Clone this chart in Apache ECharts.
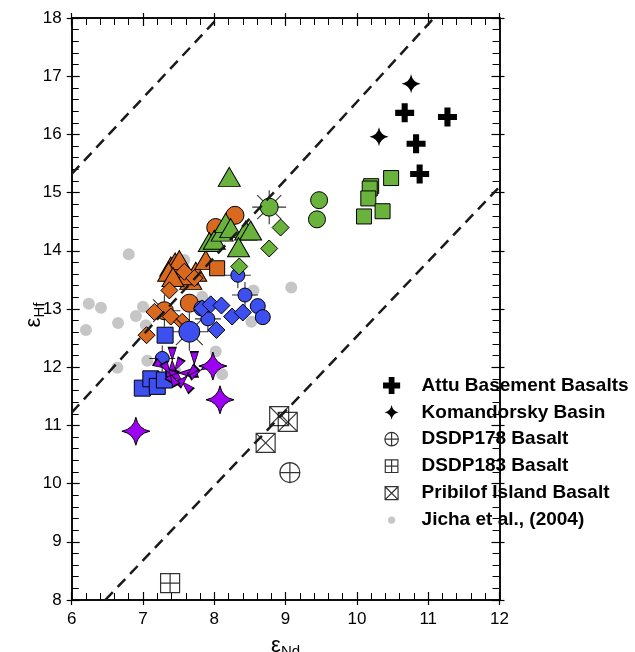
<!DOCTYPE html>
<html><head><meta charset="utf-8">
<script src="https://cdn.jsdelivr.net/npm/echarts@6/dist/echarts.min.js"></script>
<style>html,body{margin:0;padding:0;background:#fff}#c{width:635px;height:652px}</style>
</head><body><div id="c"></div>
<script>
// ---------------- data ----------------
const xTicks = [6, 7, 8, 9, 10, 11, 12];
const yTicks = [8, 9, 10, 11, 12, 13, 14, 15, 16, 17, 18];

const attu = [[10.67,16.37],[11.27,16.30],[10.83,15.84],[10.88,15.32]];
const komandorsky = [[10.76,16.87],[10.31,15.96]];
const dsdp178 = [[9.06,10.19]];
const dsdp183 = [[7.38,8.29]];
const pribilof = [[8.91,11.16],[9.03,11.06],[8.72,10.70]];
const jicha = [[6.24,13.09],[6.41,13.02],[6.20,12.64],[6.65,12.76],[6.80,13.94],[6.90,12.88],[7.00,13.04],
  [7.04,12.72],[7.06,12.11],[6.64,11.99],[8.02,12.27],[8.11,11.88],[7.83,13.21],[8.55,13.32],[9.08,13.37],
  [8.52,12.78],[7.32,13.56],[7.58,13.84],[7.45,11.95]];

const greenTri = [[8.21,15.27],[7.93,14.15],[8.00,14.19],[8.11,14.33],[8.16,14.48],[8.23,14.39],[8.44,14.35],[8.51,14.35],[8.34,14.06]];
const greenCirc = [[9.47,14.87],[9.44,14.54]];
const greenSun = [[8.77,14.75]];
const greenDia = [[8.93,14.40],[8.77,14.04],[8.35,13.73]];
const greenSq = [[10.48,15.25],[10.20,15.11],[10.18,15.07],[10.16,14.90],[10.36,14.68],[10.10,14.59]];

const orangeTri = [[7.39,13.73],[7.45,13.80],[7.51,13.84],[7.36,13.64],[7.55,13.56],[7.67,13.50],[7.74,13.64],[7.88,13.84],[7.61,13.58],[7.42,13.55]];
const orangeCirc = [[8.29,14.61],[8.02,14.40],[7.65,13.10]];
const orangeSun = [[7.30,12.97]];
const orangeSq = [[8.04,13.70]];
const orangeDia = [[7.58,13.64],[7.72,13.53],[7.37,13.32],[7.16,12.95],[7.39,12.87],[7.55,12.78],[7.05,12.55]];

const blueCross = [[8.33,13.58],[8.43,13.24],[7.91,12.83],[7.27,12.15]];
const blueCirc = [[8.61,13.05],[8.68,12.86],[7.82,13.01]];
const blueSun = [[7.65,12.61]];
const blueDia = [[7.83,13.01],[7.95,13.08],[8.10,13.06],[8.25,12.87],[8.40,12.94],[8.03,12.64]];
const blueSq = [[7.31,12.55],[6.99,11.64],[7.11,11.80],[7.20,11.67],[7.30,11.78]];

const purpleStar = [[7.98,12.02],[8.08,11.44],[6.90,10.90]];
const purpleHg = [[7.41,12.12],[7.72,12.05],[7.32,11.98],[7.45,11.95],[7.55,11.75],[7.50,11.90],[7.81,11.95],[7.62,11.85],[7.38,11.88]];
const purpleRot = [0, 0, 60, -30, 45, 90, 120, -45, 30];

const arrayLines = [[[6,15.32],[8.05,18]], [[6,11.22],[11.08,18]], [[6.47,8],[12,15.10]]];

// ---------------- styles ----------------
const FONT = 'Liberation Sans';
const GREEN = '#69b33d', ORANGE = '#d8691f', BLUE = '#3e4ff0', PURPLE = '#9d00f2', GREY = '#c6c6c6';
const P = {
  plus: 'path://M-3.2,-10H3.2V-3.2H10V3.2H3.2V10H-3.2V3.2H-10V-3.2H-3.2Z',
  star: 'path://M0,-10Q1.6,-1.6 10,0Q1.6,1.6 0,10Q-1.6,1.6 -10,0Q-1.6,-1.6 0,-10Z',
  cplus: 'path://M-10,0A10,10 0 1 1 10,0A10,10 0 1 1 -10,0ZM0,-10L0,10M-10,0L10,0',
  splus: 'path://M-10,-10H10V10H-10ZM0,-10L0,10M-10,0L10,0',
  sx: 'path://M-10,-10H10V10H-10ZM-10,-10L10,10M10,-10L-10,10',
  rays: 'path://M0,-10L0,10M-10,0L10,0M-7.07,-7.07L7.07,7.07M7.07,-7.07L-7.07,7.07',
  cross: 'path://M0,-10L0,10M-10,0L10,0',
  hg: 'path://M-4,-12L4,-12L0,0L4,12L-4,12L0,0Z'
};
const L = {
  plus: 'path://M-10,-10M10,10M-3.2,-9.5H3.2V-3.2H9.5V3.2H3.2V9.5H-3.2V3.2H-9.5V-3.2H-3.2Z',
  star: 'path://M-10,-10M10,10M0,-8.2Q1.3,-1.3 7.8,0Q1.3,1.3 0,8.2Q-1.3,1.3 -7.8,0Q-1.3,-1.3 0,-8.2Z',
  cplus: 'path://M-10,-10M10,10M-7.5,0A7.5,7.5 0 1 1 7.5,0A7.5,7.5 0 1 1 -7.5,0ZM0,-7.5L0,7.5M-7.5,0L7.5,0',
  splus: 'path://M-10,-10M10,10M-7,-7H7V7H-7ZM0,-7L0,7M-7,0L7,0',
  sx: 'path://M-10,-10M10,10M-7.2,-7.2H7.2V7.2H-7.2ZM-7.2,-7.2L7.2,7.2M7.2,-7.2L-7.2,7.2',
  dot: 'path://M-10,-10M10,10M-4,0A4,4 0 1 1 4,0A4,4 0 1 1 -4,0Z'
};

function sc(name, data, symbol, size, color, border, extra) {
  return Object.assign({
    name: name, type: 'scatter', xAxisIndex: 0, yAxisIndex: 0, data: data,
    symbol: symbol, symbolSize: size, silent: true,
    itemStyle: { color: color, borderColor: border || '#000', borderWidth: border === 'none' ? 0 : 1, opacity: 1 }
  }, extra || {});
}
function rays(data, sym, size) {
  return { name: '_r', type: 'scatter', data: data, symbol: sym, symbolSize: size, silent: true,
    itemStyle: { color: 'rgba(0,0,0,0)', borderColor: '#000', borderWidth: 1.1 } };
}
const outline = { color: 'rgba(0,0,0,0)', borderColor: '#000', borderWidth: 1.2 };

const series = [];
series.push(sc('Jicha et al., (2004)', jicha, 'circle', 12, GREY, 'none'));
arrayLines.forEach(function (seg) {
  series.push({ name: '_line', type: 'line', data: seg, symbol: 'none', silent: true,
    lineStyle: { color: '#1a1a1a', width: 2.5, type: [11, 7] } });
});
// orange
series.push(rays(orangeSun, P.rays, 32));
series.push(sc('o-tri', orangeTri, 'triangle', [22, 19], ORANGE));
series.push(sc('o-sun', orangeSun, 'circle', 18, ORANGE));
series.push(sc('o-circ', orangeCirc, 'circle', 18, ORANGE));
series.push(sc('o-sq', orangeSq, 'rect', 15, ORANGE));
series.push(sc('o-dia', orangeDia, 'diamond', 17, ORANGE));
// blue
series.push(rays(blueSun, P.rays, 38));
series.push(rays(blueCross, P.cross, 26));
series.push(sc('b-sq', blueSq, 'rect', 16, BLUE));
series.push(sc('b-circ', blueCirc, 'circle', 15, BLUE));
series.push(sc('b-sun', blueSun, 'circle', 21, BLUE));
series.push(sc('b-cross', blueCross, 'circle', 14, BLUE));
series.push(sc('b-dia', blueDia, 'diamond', 17, BLUE));
// green
series.push(rays(greenSun, P.rays, 34));
series.push(sc('g-tri', greenTri, 'triangle', [22, 19], GREEN));
series.push(sc('g-circ', greenCirc, 'circle', 17, GREEN));
series.push(sc('g-sun', greenSun, 'circle', 18, GREEN));
series.push(sc('g-dia', greenDia, 'diamond', 17, GREEN));
series.push(sc('g-sq', greenSq, 'rect', 15, GREEN));
// purple
series.push(sc('p-hg', purpleHg.map(function (d, i) { return { value: d, symbolRotate: purpleRot[i] }; }), P.hg, [8, 25], PURPLE));
series.push(sc('p-star', purpleStar, P.star, 28, PURPLE));
// black / outlined
series.push(Object.assign(sc('DSDP178 Basalt', dsdp178, P.cplus, 20, 'rgba(0,0,0,0)'), { itemStyle: outline }));
series.push(Object.assign(sc('DSDP183 Basalt', dsdp183, P.splus, 19, 'rgba(0,0,0,0)'), { itemStyle: outline }));
series.push(Object.assign(sc('Pribilof Island Basalt', pribilof, P.sx, 19, 'rgba(0,0,0,0)'), { itemStyle: outline }));
series.push(sc('Attu Basement Basalts', attu, P.plus, 19, '#000', 'none'));
series.push(sc('Komandorsky Basin', komandorsky, P.star, 19, '#000', 'none'));

// ---------------- axes ----------------
const lineS = { show: true, onZero: false, lineStyle: { color: '#000', width: 1.5 } };
function axisCommon(dim) {
  const ticks = dim === 'x' ? xTicks : yTicks;
  return { type: 'value', min: ticks[0], max: ticks[ticks.length - 1], interval: ticks[1] - ticks[0],
    splitLine: { show: false }, axisLine: lineS };
}
// inner ticks (major + minor), no labels
function innerAx(dim, grid, pos) {
  const a = axisCommon(dim);
  Object.assign(a, {
    gridIndex: grid, position: pos,
    axisTick: { show: true, inside: true, length: 8, lineStyle: { color: '#000', width: 1.2 } },
    minorTick: { show: true, splitNumber: 5, length: 7, lineStyle: { color: '#000', width: 1 } },
    axisLabel: { show: false }
  });
  return a;
}
// outer major ticks, optional labels + name
function outerAx(dim, grid, pos, labels, name) {
  const a = axisCommon(dim);
  Object.assign(a, {
    gridIndex: grid, position: pos,
    axisTick: { show: true, inside: false, length: 5, lineStyle: { color: '#000', width: 1.2 } },
    minorTick: { show: false },
    axisLabel: { show: labels, color: '#000', fontFamily: FONT, fontSize: 17, margin: dim === 'x' ? 11 : 10 }
  });
  if (name) Object.assign(a, name);
  return a;
}
const xName = {
  name: '{e|ε}{s|Nd}', nameLocation: 'middle', nameGap: 32, nameMoveOverlap: false,
  nameTextStyle: { color: '#000', fontFamily: FONT, rich: {
    e: { fontSize: 22, fontFamily: FONT, color: '#000' },
    s: { fontSize: 15, fontFamily: FONT, color: '#000', padding: [12, 0, 0, 0] } } }
};
const yName = {
  name: '{e|ε}{s|Hf}', nameLocation: 'middle', nameGap: 24, nameRotate: 90, nameMoveOverlap: false,
  nameTextStyle: { color: '#000', fontFamily: FONT, padding: [0, 12, 0, 0], rich: {
    e: { fontSize: 22, fontFamily: FONT, color: '#000' },
    s: { fontSize: 15, fontFamily: FONT, color: '#000', padding: [12, 0, 0, 0] } } }
};

const gridRect = { left: 71.7, right: 135.5, top: 18, bottom: 52, outerBoundsMode: 'none' };

const option = {
  animation: false,
  backgroundColor: '#fff',
  grid: [Object.assign({}, gridRect), Object.assign({}, gridRect)],
  xAxis: [innerAx('x', 0, 'bottom'), innerAx('x', 0, 'top'), outerAx('x', 1, 'bottom', true, xName), outerAx('x', 1, 'top', false)],
  yAxis: [innerAx('y', 0, 'left'), innerAx('y', 0, 'right'), outerAx('y', 1, 'left', true, yName), outerAx('y', 1, 'right', false)],
  legend: {
    orient: 'vertical', left: 382, top: 376, padding: 0, itemWidth: 50, itemHeight: 18, itemGap: 7.8,
    selectedMode: false,
    textStyle: { fontFamily: FONT, fontWeight: 'bold', fontSize: 19, color: '#000' },
    data: [
      { name: 'Attu Basement Basalts', icon: L.plus, itemStyle: { color: '#000', borderWidth: 0 } },
      { name: 'Komandorsky Basin', icon: L.star, itemStyle: { color: '#000', borderWidth: 0 } },
      { name: 'DSDP178 Basalt', icon: L.cplus, itemStyle: outline },
      { name: 'DSDP183 Basalt', icon: L.splus, itemStyle: outline },
      { name: 'Pribilof Island Basalt', icon: L.sx, itemStyle: outline },
      { name: 'Jicha et al., (2004)', icon: L.dot, itemStyle: { color: GREY, borderWidth: 0 } }
    ]
  },
  series: series
};
const chart = echarts.init(document.getElementById('c'), null, { renderer: 'canvas' });
chart.setOption(option);
</script>
</body></html>
